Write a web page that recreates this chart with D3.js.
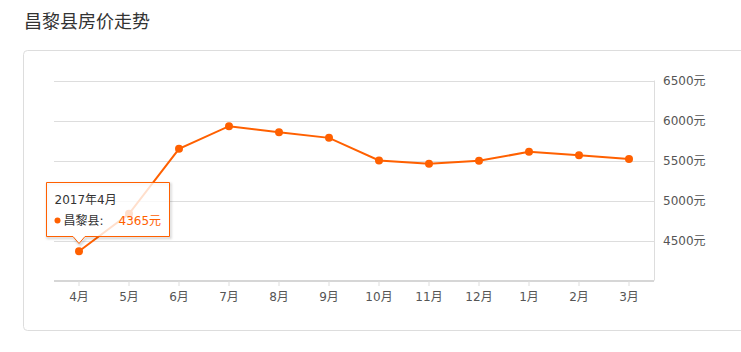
<!DOCTYPE html>
<html>
<head>
<meta charset="utf-8">
<script src="https://cdn.jsdelivr.net/npm/d3@7"></script>
<style>
	body { margin: 0; background: #fff; }
	svg { display: block; }
	svg text { font-family: "DejaVu Sans", "Noto Sans CJK SC", sans-serif; }
</style>
</head>
<body>
<div id="chart"></div>
<script>
const months = ["4月", "5月", "6月", "7月", "8月", "9月", "10月", "11月", "12月", "1月", "2月", "3月"];
const prices = [4365, 4834, 5646, 5929, 5854, 5783, 5500, 5458, 5496, 5608, 5566, 5520];
const yTicks = [4500, 5000, 5500, 6000, 6500];
const tipTitle = "2017年4月";
const seriesName = "昌黎县";

const W = 741, H = 352;
const MARGIN = { top: 80.5, right: 87, bottom: 71.5, left: 54 };
const ORANGE = "#ff6000";
const FONT = "'DejaVu Sans', 'Noto Sans CJK SC', sans-serif";

const svg = d3.select("#chart").append("svg")
	.attr("width", W)
	.attr("height", H);

// title
svg.append("text")
	.attr("x", 24)
	.attr("y", 28)
	.style("font-family", "'Noto Sans CJK SC', sans-serif")
	.style("font-size", "18px")
	.style("fill", "#333")
	.text("昌黎县房价走势");

// card
svg.append("rect")
	.attr("x", 23.5)
	.attr("y", 50.5)
	.attr("width", 760)
	.attr("height", 280)
	.attr("rx", 4)
	.attr("fill", "#fff")
	.attr("stroke", "#ddd");

const x = d3.scaleBand()
	.domain(months)
	.range([MARGIN.left, W - MARGIN.right]);

const y = d3.scaleLinear()
	.domain([4000, 6500])
	.range([H - MARGIN.bottom, MARGIN.top]);

// grid lines
svg.append("g")
	.selectAll("line")
	.data(yTicks)
	.join("line")
	.attr("x1", MARGIN.left)
	.attr("x2", W - MARGIN.right)
	.attr("y1", d => Math.round(y(d)) + 0.5)
	.attr("y2", d => Math.round(y(d)) + 0.5)
	.attr("stroke", "#ddd");

// right Y axis
svg.append("g")
	.attr("transform", `translate(${W - MARGIN.right},0)`)
	.call(d3.axisRight(y).tickValues(yTicks).tickSize(0).tickPadding(9).tickFormat(d => d + "元"))
	.attr("font-family", FONT)
	.call(ax => ax.select(".domain").attr("stroke", "#ddd").attr("d", `M0.5,${y(6500)}V${y(4000)}`))
	.selectAll("text")
	.style("fill", "#555")
	.style("font-size", "12px");

// bottom X axis
svg.append("g")
	.attr("transform", `translate(0,${y(4000) + 0.5})`)
	.call(d3.axisBottom(x).tickSize(5).tickPadding(6))
	.attr("font-family", FONT)
	.call(ax => ax.select(".domain").attr("stroke", "#d6d6d6").attr("stroke-width", 2).attr("d", `M${MARGIN.left},0H${W - MARGIN.right}`))
	.call(ax => ax.selectAll(".tick line").attr("stroke", "#ddd"))
	.selectAll("text")
	.style("fill", "#555")
	.style("font-size", "12px");

const pts = months.map((m, i) => ({ m, v: prices[i] }));
const cx = d => x(d.m) + x.bandwidth() / 2;

// line
svg.append("path")
	.datum(pts)
	.attr("fill", "none")
	.attr("stroke", ORANGE)
	.attr("stroke-width", 2)
	.attr("d", d3.line().x(cx).y(d => y(d.v)));

// points
svg.selectAll(".dot")
	.data(pts)
	.join("circle")
	.attr("class", "dot")
	.attr("cx", cx)
	.attr("cy", d => y(d.v))
	.attr("r", 4)
	.attr("fill", ORANGE);

// tooltip for first point
const p0 = pts[0];
const tx = 46.5, ty = 182.5, tw = 123, th = 54;
const ax0 = cx(p0), ay0 = ty + th + 7;
const tipPath = `M${tx},${ty}H${tx + tw}V${ty + th}H${ax0 + 6}L${ax0},${ay0}L${ax0 - 6},${ty + th}H${tx}Z`;

const tip = svg.append("g");
// shadow only from the outline, so the box itself stays white
tip.append("path")
	.attr("d", tipPath)
	.attr("fill", "none")
	.attr("stroke", "rgba(0,0,0,0.18)")
	.attr("stroke-width", 2)
	.attr("transform", "translate(1,1.5)")
	.style("filter", "blur(1px)");
tip.append("path")
	.attr("d", tipPath)
	.attr("fill", "#fff")
	.attr("fill-opacity", 0.8)
	.attr("stroke", ORANGE);

tip.append("text")
	.attr("x", tx + 8)
	.attr("y", ty + 21)
	.style("font-size", "12px")
	.style("fill", "#333")
	.text(tipTitle);

tip.append("circle")
	.attr("cx", tx + 11)
	.attr("cy", ty + 38)
	.attr("r", 3)
	.attr("fill", ORANGE);

tip.append("text")
	.attr("x", tx + 17)
	.attr("y", ty + 42)
	.style("font-size", "12px")
	.style("fill", "#333")
	.text(seriesName + ":");

tip.append("text")
	.attr("x", tx + 72)
	.attr("y", ty + 42)
	.style("font-size", "12px")
	.style("fill", ORANGE)
	.text(p0.v + "元");
</script>
</body>
</html>
